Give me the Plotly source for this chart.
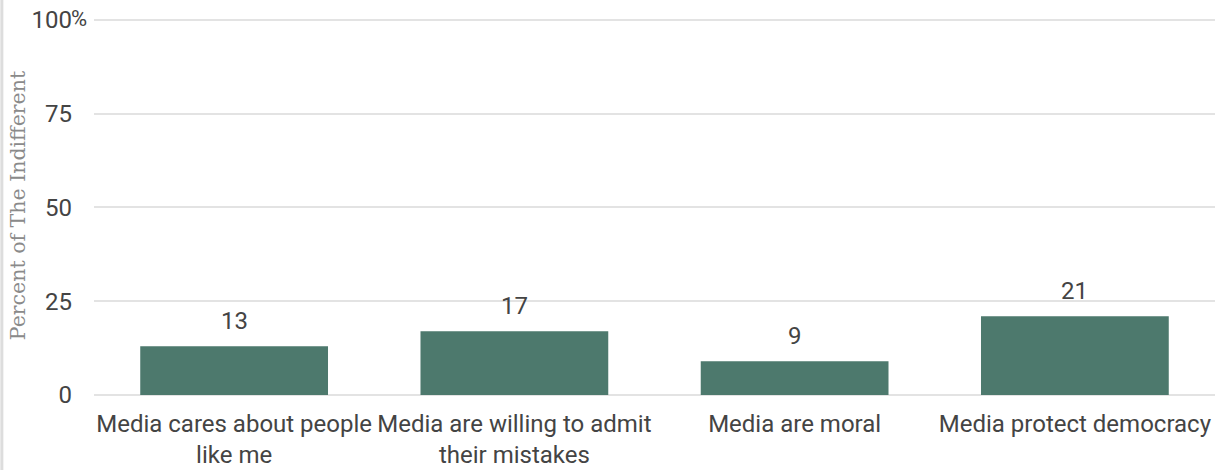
import plotly.graph_objects as go

categories = ["Media cares about people<br>like me", "Media are willing to admit<br>their mistakes",
              "Media are moral", "Media protect democracy"]
values = [13, 17, 9, 21]
tick_vals = [0, 25, 50, 75, 100]
tick_text = ["0", "25", "50", "75", "100"]

fig = go.Figure()
fig.add_trace(go.Bar(x=categories, y=values, marker=dict(color="#4d796d", line=dict(width=0)),
                     width=0.67, hoverinfo="skip"))
for c, v in zip(categories, values):
    fig.add_annotation(x=c, y=v, text=str(v), showarrow=False, yanchor="bottom", yshift=9,
                       font=dict(family="Roboto", size=24, color="#444"))

# percent sign next to the top tick
fig.add_annotation(xref="paper", x=0, y=100, text="%", showarrow=False, xanchor="left",
                   yanchor="middle", xshift=-25, yshift=1,
                   font=dict(family="Roboto", size=22, color="#444"))

fig.add_shape(type="line", xref="paper", yref="paper", x0=-0.0822, x1=-0.0822, y0=-0.3, y1=1.1,
              line=dict(color="#dddddd", width=3))

fig.update_layout(
    width=1220, height=470,
    margin=dict(l=94, r=5, t=16, b=75),
    plot_bgcolor="white", paper_bgcolor="white",
    showlegend=False,
    font=dict(family="Roboto", size=24, color="#444"),
)
fig.update_xaxes(showgrid=False, showline=False, ticks="", automargin=False,
                 ticklabelstandoff=12,
                 tickfont=dict(family="Roboto", size=24, color="#444"))
fig.update_yaxes(range=[0, 101], tickvals=tick_vals, ticktext=tick_text, showgrid=True,
                 gridcolor="#e3e3e3", gridwidth=2, zeroline=True, zerolinecolor="#e3e3e3",
                 zerolinewidth=2, ticks="", ticklen=0, automargin=False,
                 ticklabelstandoff=21,
                 tickfont=dict(family="Roboto", size=24, color="#444"),
                 title=dict(text="Percent of The Indifferent", standoff=0,
                            font=dict(family="DejaVu Serif", size=20.5, color="#8a8a8a")))

fig.write_html("out.html", post_script="document.body.style.margin='0';",
               config={"displayModeBar": False})
